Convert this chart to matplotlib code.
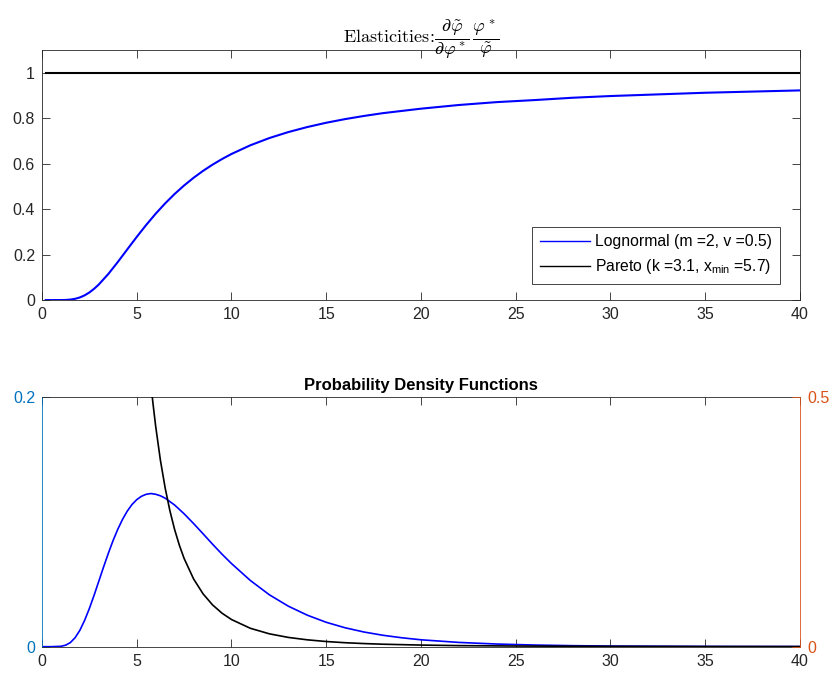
import matplotlib
matplotlib.use("Agg")
from matplotlib import pyplot as plt

# Elasticity of average productivity w.r.t. the cutoff
el_x = [0.2, 0.5, 1, 1.25, 1.5, 1.75, 2, 2.25, 2.5, 2.75, 3, 3.5, 4, 4.5, 5, 5.5, 6, 6.5,
        7, 7.5, 8, 8.5, 9, 9.5, 10, 11, 12, 13, 14, 15, 16, 17, 18, 20, 22, 24, 26, 28,
        30, 35, 40]
el_lognormal = [0, 0, 0.0001, 0.0006, 0.0022, 0.0056, 0.0116, 0.0208, 0.0334, 0.0495,
                0.0687, 0.1147, 0.1674, 0.2228, 0.2778, 0.3306, 0.3800, 0.4254, 0.4668,
                0.5042, 0.5380, 0.5685, 0.5958, 0.6205, 0.6428, 0.6812, 0.7129, 0.7392,
                0.7613, 0.7802, 0.7963, 0.8102, 0.8225, 0.8421, 0.8583, 0.8710, 0.8800,
                0.8902, 0.8977, 0.9122, 0.9225]
el_pareto = [1.0] * len(el_x)

# Densities
ln_x = [0, 0.5, 1, 1.25, 1.5, 1.75, 2, 2.25, 2.5, 2.75, 3, 3.25, 3.5, 3.75, 4, 4.25, 4.5,
        4.75, 5, 5.25, 5.5, 5.75, 6, 6.25, 6.5, 7, 7.5, 8, 8.5, 9, 9.5, 10, 11, 12, 13,
        14, 15, 16, 17, 18, 19, 20, 22, 24, 26, 28, 30, 35, 40]
ln_pdf = [0, 0, 0.0003, 0.0012, 0.0033, 0.0072, 0.0131, 0.0210, 0.0305, 0.0411, 0.0524,
          0.0637, 0.0746, 0.0848, 0.0939, 0.1018, 0.1084, 0.1137, 0.1176, 0.1203, 0.1219,
          0.1225, 0.1219, 0.1207, 0.1188, 0.1133, 0.1063, 0.0985, 0.0903, 0.0820, 0.0740,
          0.0665, 0.0529, 0.0415, 0.0324, 0.0252, 0.0195, 0.0151, 0.0117, 0.0091, 0.0071,
          0.0055, 0.0034, 0.0021, 0.0013, 0.0008, 0.0005, 0.0002, 0.0001]
par_x = [5.7, 5.85, 6, 6.25, 6.5, 6.75, 7, 7.25, 7.5, 8, 8.5, 9, 9.5, 10, 11, 12, 13, 14,
         15, 16, 17, 18, 20, 22, 25, 30, 35, 40]
par_pdf = [0.5439, 0.489, 0.4408, 0.3728, 0.3175, 0.2719, 0.2342, 0.2029, 0.1765, 0.1355,
           0.1057, 0.0836, 0.0670, 0.0543, 0.0367, 0.0257, 0.0185, 0.0137, 0.0103, 0.0079,
           0.0062, 0.0049, 0.0032, 0.0021, 0.0013, 0.0006, 0.0003, 0.0002]

x_ticks = [0, 5, 10, 15, 20, 25, 30, 35, 40]

plt.rcParams["font.family"] = ["Liberation Sans", "DejaVu Sans"]
plt.rcParams["mathtext.fontset"] = "custom"
plt.rcParams["mathtext.rm"] = "Liberation Sans"
plt.rcParams["mathtext.it"] = "Liberation Sans:italic"
plt.rcParams["mathtext.bf"] = "Liberation Sans:bold"

gray = (0.15, 0.15, 0.15)
c_left = (0.0, 0.447, 0.741)
c_right = (0.85, 0.325, 0.098)

fig = plt.figure(figsize=(8.31, 6.82), dpi=100)

# Top panel
ax = fig.add_axes([0.0505, 0.560, 0.9122, 0.3666])
ax.plot(el_x, el_lognormal, c="blue", linewidth=1.5, label="Lognormal (m =2, v =0.5)")
ax.plot(el_x, el_pareto, c="black", linewidth=1.5, label="Pareto (k =3.1, x$_{\\mathrm{min}}$ =5.7)")
ax.set_xlim(0, 40)
ax.set_ylim(0, 1.1)
ax.set_xticks(x_ticks)
ax.set_yticks([0, 0.2, 0.4, 0.6, 0.8, 1])
ax.set_yticklabels(["0", "0.2", "0.4", "0.6", "0.8", "1"])
ax.tick_params(axis="both", direction="in", length=5.5, width=0.6, top=True, right=True,
               labelsize=11.5, colors=gray, pad=5)
for s in ax.spines.values():
    s.set_color(gray)
    s.set_linewidth(0.6)
ax.set_title(r"$\mathrm{Elasticities}\!:\!\dfrac{\partial\tilde{\varphi}}{\partial\varphi^*}\,\dfrac{\varphi^*}{\tilde{\varphi}}$",
             fontsize=13, pad=5, math_fontfamily="cm")
leg = ax.legend(loc="lower right", bbox_to_anchor=(0.9736, 0.064), borderaxespad=0,
                fontsize=11.3, fancybox=False, framealpha=1, handlelength=3.2,
                handletextpad=0.35, labelspacing=0.5, borderpad=0.5)
leg.get_frame().set_edgecolor(gray)
leg.get_frame().set_linewidth(0.6)
for line in leg.get_lines():
    line.set_linewidth(1.0)

# Bottom panel
axb = fig.add_axes([0.0505, 0.0518, 0.9122, 0.3666])
axb.plot(ln_x, ln_pdf, c="blue", linewidth=1.2)
axb.set_xlim(0, 40)
axb.set_ylim(0, 0.2)
axb.set_xticks(x_ticks)
axb.set_yticks([0, 0.2])
axb.set_yticklabels(["0", "0.2"])
axb.tick_params(axis="x", direction="in", length=5.5, width=0.6, top=True,
                labelsize=11.5, colors=gray, pad=5)
axb.tick_params(axis="y", direction="in", length=5.5, width=0.6, labelsize=11.5,
                colors=c_left, pad=5)
axb.spines["right"].set_visible(False)
axb.spines["left"].set_color(c_left)
for k in ["top", "bottom"]:
    axb.spines[k].set_color(gray)
for s in axb.spines.values():
    s.set_linewidth(0.6)
axb.set_title("Probability Density Functions", fontsize=12, fontweight="bold", pad=5)

axr = axb.twinx()
axr.plot(par_x, par_pdf, c="black", linewidth=1.2)
axr.set_ylim(0, 0.5)
axr.set_yticks([0, 0.5])
axr.set_yticklabels(["0", "0.5"])
axr.tick_params(axis="y", direction="in", length=5.5, width=0.6, labelsize=11.5,
                colors=c_right, pad=5)
for k in ["left", "top", "bottom"]:
    axr.spines[k].set_visible(False)
axr.spines["right"].set_color(c_right)
axr.spines["right"].set_linewidth(0.6)

fig.savefig("out.png", dpi=100)
